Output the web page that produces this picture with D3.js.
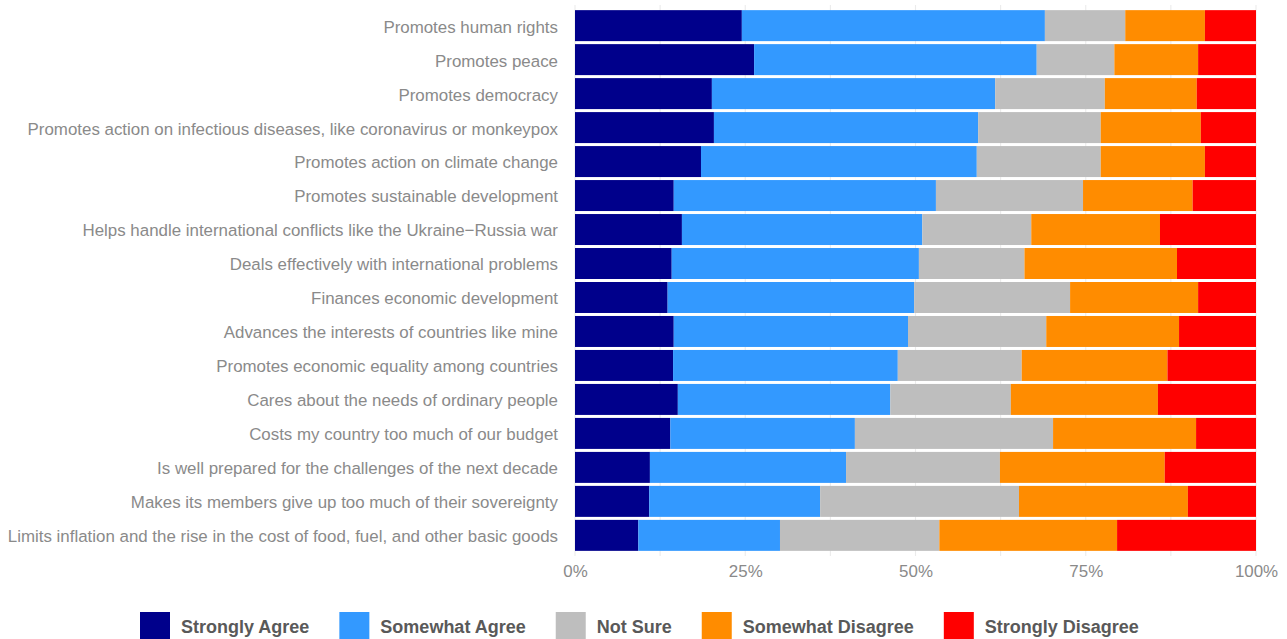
<!DOCTYPE html>
<html>
<head>
<meta charset="utf-8">
<script src="https://cdn.jsdelivr.net/npm/d3@7"></script>
<style>
  html, body { margin: 0; padding: 0; background: #fff; }
  svg { display: block; font-family: "Liberation Sans", Arial, Helvetica, sans-serif; }
</style>
</head>
<body>
<svg id="chart" width="1287" height="639"></svg>
<script>
const categories = [
  "Promotes human rights",
  "Promotes peace",
  "Promotes democracy",
  "Promotes action on infectious diseases, like coronavirus or monkeypox",
  "Promotes action on climate change",
  "Promotes sustainable development",
  "Helps handle international conflicts like the Ukraine\u2212Russia war",
  "Deals effectively with international problems",
  "Finances economic development",
  "Advances the interests of countries like mine",
  "Promotes economic equality among countries",
  "Cares about the needs of ordinary people",
  "Costs my country too much of our budget",
  "Is well prepared for the challenges of the next decade",
  "Makes its members give up too much of their sovereignty",
  "Limits inflation and the rise in the cost of food, fuel, and other basic goods"
];
const seriesNames = ["Strongly Agree", "Somewhat Agree", "Not Sure", "Somewhat Disagree", "Strongly Disagree"];
const stronglyAgree    = [24.5, 26.3, 20.1, 20.4, 18.5, 14.5, 15.7, 14.2, 13.6, 14.5, 14.4, 15.1, 14.0, 11.0, 10.9, 9.3];
const somewhatAgree    = [44.5, 41.5, 41.6, 38.8, 40.5, 38.5, 35.3, 36.3, 36.2, 34.4, 33.0, 31.2, 27.1, 28.8, 25.1, 20.8];
const notSure          = [11.8, 11.4, 16.1, 18.0, 18.2, 21.6, 16.0, 15.5, 22.9, 20.3, 18.2, 17.7, 29.1, 22.6, 29.2, 23.4];
const somewhatDisagree = [11.7, 12.3, 13.5, 14.7, 15.3, 16.1, 18.9, 22.4, 18.8, 19.5, 21.4, 21.6, 21.0, 24.2, 24.8, 26.1];
const stronglyDisagree = [7.5, 8.5, 8.7, 8.1, 7.5, 9.3, 14.1, 11.6, 8.5, 11.3, 13.0, 14.4, 8.8, 13.4, 10.0, 20.4];
const tickValues = [0, 0.25, 0.5, 0.75, 1];
const tickLabels = ["0%", "25%", "50%", "75%", "100%"];
const colors = ["#00008B", "#3399FF", "#BEBEBE", "#FF8C00", "#FF0000"];

const seriesValues = [stronglyAgree, somewhatAgree, notSure, somewhatDisagree, stronglyDisagree];
const rows = categories.map((c, i) => {
  const r = { category: c };
  const total = seriesValues.reduce((s, arr) => s + arr[i], 0);
  seriesNames.forEach((n, k) => { r[n] = seriesValues[k][i] / total; });
  return r;
});
const stacked = d3.stack().keys(seriesNames)(rows);

const svg = d3.select("#chart");
const x = d3.scaleLinear().domain([0, 1]).range([575, 1256]);
const step = 34;
const y = d3.scaleBand().domain(categories)
  .range([8.5, 8.5 + step * categories.length])
  .paddingInner(3 / 34).paddingOuter(1.5 / 34 / (1 - 3/34) );
const color = d3.scaleOrdinal().domain(seriesNames).range(colors);

// grid lines (major and minor)
const gridVals = d3.range(0, 1.0001, 0.125);
svg.append("g").selectAll("line").data(gridVals).join("line")
  .attr("x1", d => x(d)).attr("x2", d => x(d))
  .attr("y1", 5).attr("y2", 556)
  .attr("stroke", "#ebebeb").attr("stroke-width", 1.1);

// bars
svg.append("g").selectAll("g").data(stacked).join("g")
  .attr("fill", d => color(d.key))
  .selectAll("rect").data(d => d).join("rect")
  .attr("x", d => x(d[0]))
  .attr("width", d => x(d[1]) - x(d[0]))
  .attr("y", d => y(d.data.category))
  .attr("height", y.bandwidth());

// y axis labels
const yAxis = d3.axisLeft(y).tickSize(0).tickPadding(0);
const yg = svg.append("g").attr("transform", "translate(558,1.5)").call(yAxis);
yg.select(".domain").remove();
yg.selectAll("text").attr("fill", "#8a8a8a").style("font-size", "16.9px")
  .style("font-family", "'Liberation Sans', Arial, sans-serif");

// x axis labels
const xAxis = d3.axisBottom(x).tickValues(tickValues).tickFormat((d, i) => tickLabels[i]).tickSize(0).tickPadding(0);
const xg = svg.append("g").attr("transform", "translate(0,565)").call(xAxis);
xg.select(".domain").remove();
xg.selectAll("text").attr("fill", "#8a8a8a").style("font-size", "16.9px")
  .style("font-family", "'Liberation Sans', Arial, sans-serif");

// legend
const legend = svg.append("g");
let cursor = 0;
seriesNames.forEach((n, i) => {
  const g = legend.append("g");
  g.append("rect").attr("x", 0).attr("y", 612).attr("width", 30).attr("height", 27).attr("fill", colors[i]);
  const t = g.append("text").attr("x", 41).attr("y", 627).attr("dy", "0.35em")
    .attr("fill", "#595959").style("font-size", "18px").style("font-weight", "bold").text(n);
  const w = t.node().getComputedTextLength();
  g.attr("transform", `translate(${cursor},0)`);
  cursor += 41 + w + 30;
});
legend.attr("transform", `translate(${140},0)`);
</script>
</body>
</html>
